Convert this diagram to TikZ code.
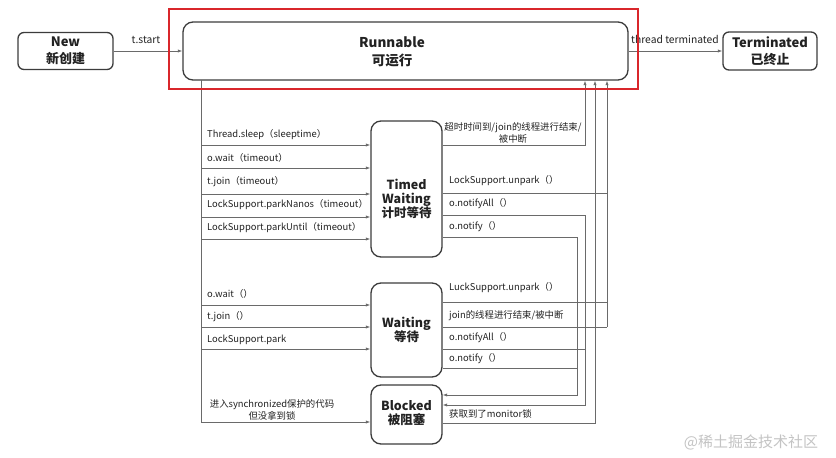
\documentclass[tikz,border=0pt]{standalone}
\usepackage{fontspec}
\setmainfont{Noto Sans CJK SC}
\usetikzlibrary{arrows.meta}
\definecolor{boxline}{HTML}{3C3C3C}
\definecolor{conncol}{HTML}{6A6A6A}
\definecolor{txtcol}{HTML}{222222}
\definecolor{redframe}{HTML}{D9262B}
\definecolor{wmcol}{HTML}{C4C4C4}
\begin{document}
\begin{tikzpicture}[x=1pt,y=-1pt,
  stbox/.style={draw=boxline, line width=1.3pt, fill=white, inner sep=0, text=txtcol, align=center},
  ttl/.style={text=txtcol, font=\bfseries\fontsize{12.5}{14}\selectfont, align=center, inner sep=0},
  lbl/.style={text=txtcol, font=\fontsize{9.4}{12}\selectfont, anchor=west, inner sep=0},
  clbl/.style={text=txtcol, font=\fontsize{9.4}{12}\selectfont, align=center, inner sep=0},
  connline/.style={draw=conncol, line width=0.7pt},
  arr/.style={connline, -{Latex[length=4.5pt,width=3.2pt]}},
]
\useasboundingbox (0,0) rectangle (836,458);
\fill[white] (0,0) rectangle (836,458);

% states
\node[stbox, rounded corners=6pt, minimum width=95pt, minimum height=37pt,
      font=\bfseries\fontsize{13}{17}\selectfont] (new) at (65.5,51) {New\\新创建};
\node[stbox, rounded corners=10pt, minimum width=445pt, minimum height=58pt] (run) at (405.5,51) {};
\node[ttl, font=\bfseries\fontsize{13.5}{18}\selectfont] (runt) at (392,52) {Runnable\\可运行};
\node[stbox, rounded corners=6pt, minimum width=94pt, minimum height=38pt,
      font=\bfseries\fontsize{13}{17}\selectfont] (term) at (770,51) {Terminated\\已终止};
\node[stbox, rounded corners=10pt, minimum width=71pt, minimum height=136pt] (tw) at (406.5,189) {};
\node[ttl] (twt) at (406.5,199) {Timed\\Waiting\\计时等待};
\node[stbox, rounded corners=10pt, minimum width=71pt, minimum height=94pt] (wt) at (406.5,330) {};
\node[ttl] (wtt) at (406.5,330) {Waiting\\等待};
\node[stbox, rounded corners=10pt, minimum width=71pt, minimum height=59pt] (bl) at (406.5,414.5) {};
\node[ttl] (blt) at (406.5,413) {Blocked\\被阻塞};

% helper coordinates
\coordinate (trunk) at (201,80);
\coordinate (xa) at (577,0);
\coordinate (xb) at (585,0);
\coordinate (xc) at (595,0);
\coordinate (xd) at (607,0);

% top row
\draw[arr] (new.east) -- (new.east -| run.west);
\node[clbl, font=\fontsize{10.3}{12}\selectfont] (ts) at (146,40) {t.start};
\draw[arr] (run.east |- term.west) -- (term.west);
\node[clbl, font=\fontsize{10.3}{12}\selectfont] (tt) at (675,39) {thread terminated};

% trunk to blocked
\draw[arr] (trunk) -- (trunk |- 0,422) -- (bl.west |- 0,422);
\node[clbl] (bll) at (272,410) {进入synchronized保护的代码\\但没拿到锁};

% into timed waiting
\foreach \yy in {145,168,194,217,239}
  \draw[arr] (trunk |- 0,\yy) -- (tw.west |- 0,\yy);
\node[lbl] (l1) at (207,135) {Thread.sleep（sleeptime）};
\node[lbl] (l2) at (207,158) {o.wait（timeout）};
\node[lbl] (l3) at (207,182) {t.join（timeout）};
\node[lbl] (l4) at (207,205) {LockSupport.parkNanos（timeout）};
\node[lbl] (l5) at (207,228) {LockSupport.parkUntil（timeout）};

% into waiting
\foreach \yy in {305,327,349}
  \draw[arr] (trunk |- 0,\yy) -- (wt.west |- 0,\yy);
\node[lbl] (w1) at (207,294) {o.wait（）};
\node[lbl] (w2) at (207,317) {t.join（）};
\node[lbl] (w3) at (207,340) {LockSupport.park};

% out of timed waiting
\draw[arr] (tw.east |- 0,145) -- (xb |- 0,145) -- (xb |- run.south);
\node[clbl] (r1) at (513,133) {超时时间到/join的线程进行结束/\\被中断};
\draw[connline] (tw.east |- 0,193) -- (xd |- 0,193);
\node[lbl] (r2) at (449,181) {LockSupport.unpark（）};
\draw[connline] (tw.east |- 0,215) -- (xb |- 0,215);
\node[lbl] (r3) at (449,204) {o.notifyAll（）};
\draw[connline] (tw.east |- 0,237) -- (xa |- 0,237);
\node[lbl] (r4) at (449,227) {o.notify（）};

% out of waiting
\draw[connline] (wt.east |- 0,302) -- (xd |- 0,302);
\node[lbl] (s1) at (449,288) {LuckSupport.unpark（）};
\draw[connline] (wt.east |- 0,327) -- (xd |- 0,327);
\node[lbl] (s2) at (449,316) {join的线程进行结束/被中断};
\draw[connline] (wt.east |- 0,349) -- (xb |- 0,349);
\node[lbl] (s3) at (449,338) {o.notifyAll（）};
\draw[connline] (wt.east |- 0,368) -- (xa |- 0,368);
\node[lbl] (s4) at (449,359) {o.notify（）};

% verticals
\draw[arr] (xd |- 0,327) -- (xd |- run.south);
\draw[arr] (xa |- 0,237) -- (xa |- 0,395) -- (bl.east |- 0,395);
\draw[arr] (xb |- 0,215) -- (xb |- 0,405) -- (bl.east |- 0,405);
\draw[arr] (bl.east |- 0,423) -- (xc |- 0,423) -- (xc |- run.south);
\node[lbl] (b1) at (449,414) {获取到了monitor锁};

% highlight frame
\draw[redframe, line width=1.8pt] (169,9) rectangle (638,89);

% watermark
\node[text=wmcol, font=\fontsize{15}{15}\selectfont, inner sep=0] (wmk) at (751,442) {@稀土掘金技术社区};
\end{tikzpicture}
\end{document}
